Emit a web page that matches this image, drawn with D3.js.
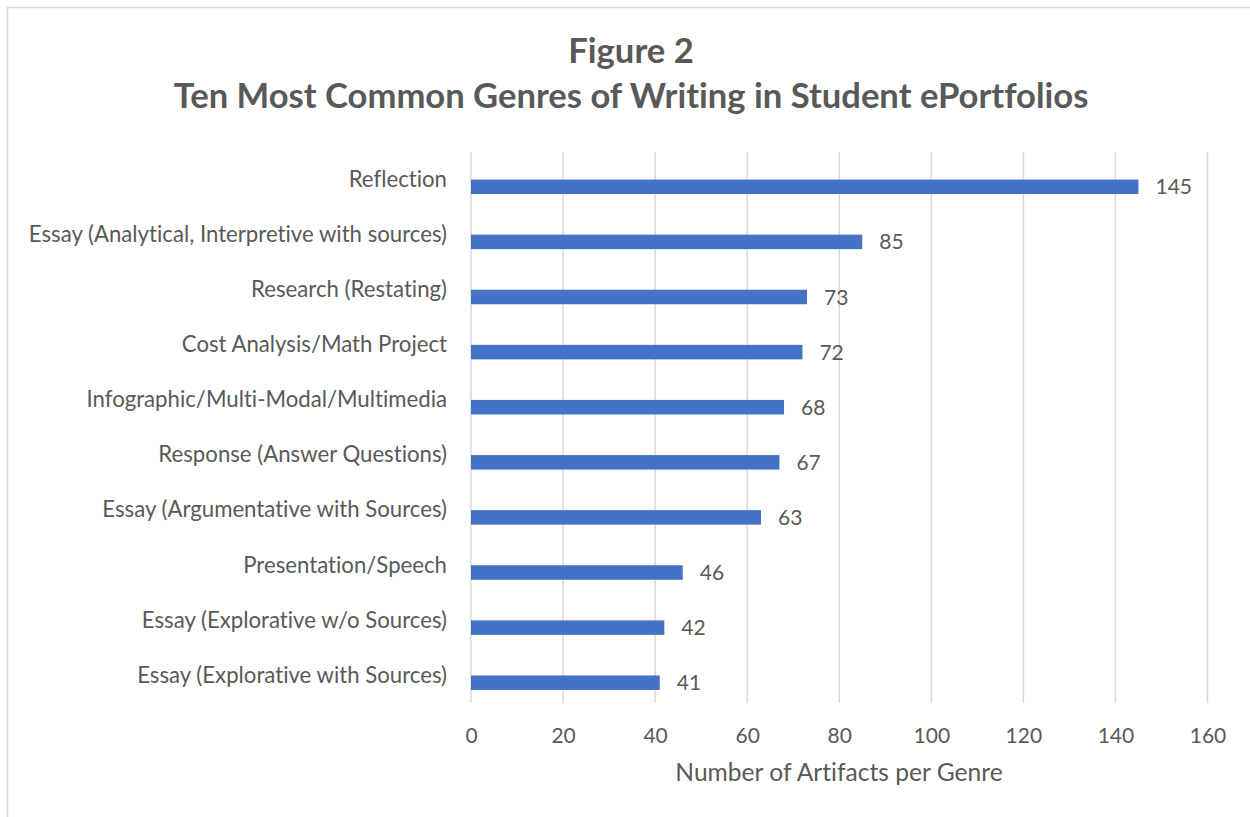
<!DOCTYPE html>
<html>
<head>
<meta charset="utf-8">
<script src="https://cdn.jsdelivr.net/npm/d3@7"></script>
<style>
  html, body { margin: 0; padding: 0; background: #fff; }
  svg { display: block; }
  svg text { font-family: Lato, "Open Sans", sans-serif; font-variant-ligatures: none; }
</style>
</head>
<body>
<svg id="chart" width="1250" height="817"></svg>
<script>
// Genres, top to bottom, with artifact counts
const genres = [
  "Reflection",
  "Essay (Analytical, Interpretive with sources)",
  "Research (Restating)",
  "Cost Analysis/Math Project",
  "Infographic/Multi-Modal/Multimedia",
  "Response (Answer Questions)",
  "Essay (Argumentative with Sources)",
  "Presentation/Speech",
  "Essay (Explorative w/o Sources)",
  "Essay (Explorative with Sources)"
];
const counts = [145, 85, 73, 72, 68, 67, 63, 46, 42, 41];
const xTicks = [0, 20, 40, 60, 80, 100, 120, 140, 160];
const titleLines = ["Figure 2", "Ten Most Common Genres of Writing in Student ePortfolios"];
const xAxisTitle = "Number of Artifacts per Genre";

const svg = d3.select("#chart");
const textColor = "#595959";
const gridColor = "#d9d9d9";
const barColor = "#4472C4";

// chart frame
svg.append("rect")
  .attr("x", 7.5).attr("y", 7.5)
  .attr("width", 1260).attr("height", 830)
  .attr("fill", "#fff").attr("stroke", gridColor).attr("stroke-width", 1.5);

const plot = { left: 471, right: 1207.5, top: 152, bottom: 703 };

const x = d3.scaleLinear().domain([0, 160]).range([plot.left, plot.right]);
const y = d3.scaleBand().domain(genres).range([plot.top, plot.bottom]);

// vertical gridlines
svg.append("g").selectAll("line").data(xTicks).join("line")
  .attr("x1", d => x(d)).attr("x2", d => x(d))
  .attr("y1", plot.top).attr("y2", plot.bottom)
  .attr("stroke", gridColor).attr("stroke-width", 1.5);

// x axis tick labels
const xAxis = d3.axisBottom(x).tickValues(xTicks).tickSize(0).tickPadding(0);
const gx = svg.append("g").attr("transform", `translate(0,${plot.bottom})`).call(xAxis)
  .attr("font-family", null).attr("font-size", null);
gx.select(".domain").remove();
gx.selectAll("text")
  .attr("y", 40).attr("dy", null)
  .attr("fill", textColor)
  .style("font-size", "21px");

// category labels, sitting at the band centre
const yAxis = d3.axisLeft(y).tickSize(0).tickPadding(24);
const gy = svg.append("g").attr("transform", `translate(${plot.left},0)`).call(yAxis)
  .attr("font-family", null).attr("font-size", null);
gy.select(".domain").remove();
gy.selectAll("text")
  .attr("dy", "0.33em")
  .attr("fill", textColor)
  .style("font-size", "22.2px");

// bars, drawn just below each band centre
const barH = 14.5;
const data = genres.map((g, i) => ({ genre: g, value: counts[i] }));
svg.append("g").selectAll("rect").data(data).join("rect")
  .attr("x", x(0))
  .attr("y", d => y(d.genre) + y.bandwidth() / 2)
  .attr("width", d => x(d.value) - x(0))
  .attr("height", barH)
  .attr("fill", barColor);

// value labels
svg.append("g").selectAll("text").data(data).join("text")
  .attr("x", d => x(d.value) + 17)
  .attr("y", d => y(d.genre) + y.bandwidth() / 2 + barH / 2)
  .attr("dy", "0.36em")
  .attr("fill", textColor)
  .style("font-size", "21px")
  .text(d => d.value);

// title
svg.append("g").selectAll("text").data(titleLines).join("text")
  .attr("x", 631)
  .attr("y", (d, i) => 63 + i * 45)
  .attr("text-anchor", "middle")
  .attr("fill", textColor)
  .style("font-size", "34.6px")
  .style("font-weight", "bold")
  .text(d => d);

// axis title
svg.append("text")
  .attr("x", 839)
  .attr("y", 781)
  .attr("text-anchor", "middle")
  .attr("fill", textColor)
  .style("font-size", "24.6px")
  .text(xAxisTitle);
</script>
</body>
</html>
